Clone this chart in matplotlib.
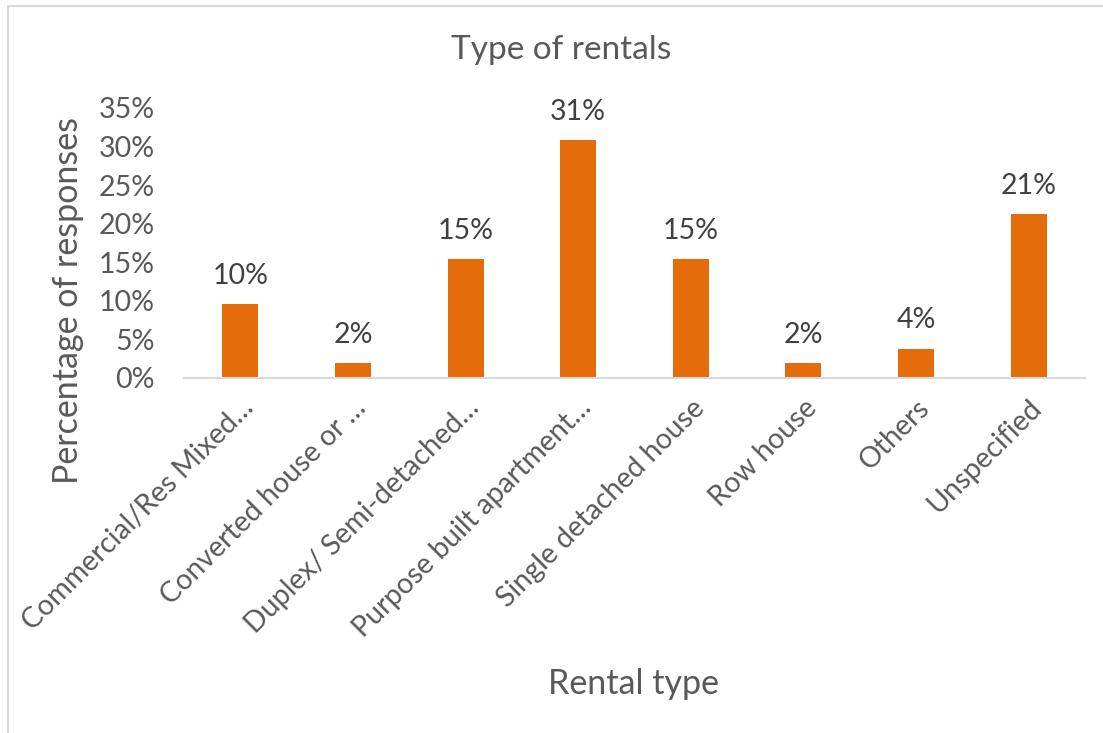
import matplotlib
matplotlib.use("Agg")
from matplotlib import pyplot as plt
from matplotlib.patches import Rectangle
from matplotlib.ticker import FuncFormatter

categories = ["Commercial/Res Mixed…", "Converted house or …", "Duplex/ Semi-detached…",
              "Purpose built apartment…", "Single detached house", "Row house", "Others", "Unspecified"]
values = [9.6, 1.9, 15.4, 30.8, 15.4, 1.9, 3.8, 21.2]
labels = ["10%", "2%", "15%", "31%", "15%", "2%", "4%", "21%"]
yticks = [0, 5, 10, 15, 20, 25, 30, 35]

plt.rcParams['font.family'] = ['Lato', 'DejaVu Sans']

W, H = 1103, 733
fig = plt.figure(figsize=(W / 100, H / 100), dpi=100)
ax = fig.add_axes([184 / W, 1 - 378 / H, (1085 - 184) / W, (378 - 108) / H])

x = range(len(categories))
ax.bar(x, values, width=0.32, color="#e46c0a")
for i, v in enumerate(values):
    ax.text(i, v + 2.0, labels[i], ha="center", va="bottom", fontsize=20.5, color="#404040")

ax.set_xlim(-0.5, len(categories) - 0.5)
ax.set_ylim(0, 35)
ax.set_yticks(yticks)
ax.yaxis.set_major_formatter(FuncFormatter(lambda v, p: f"{v:.0f}%"))
ax.set_xticks(list(x))
ax.set_xticklabels(categories, rotation=45, ha="right", rotation_mode="anchor")
ax.tick_params(axis="both", length=0, labelsize=20.5, labelcolor="#595959")
ax.tick_params(axis="x", pad=12)
ax.tick_params(axis="y", pad=21)

for s in ["top", "right", "left"]:
    ax.spines[s].set_visible(False)
ax.spines["bottom"].set_color("#d9d9d9")
ax.spines["bottom"].set_linewidth(1.5)

fig.text(561 / W, 1 - 50 / H, "Type of rentals", ha="center", va="center", fontsize=24, color="#595959")
fig.text(68 / W, 1 - 300 / H, "Percentage of responses", ha="center", va="center", rotation=90,
         fontsize=24.5, color="#595959")
fig.text(634 / W, 1 - 684 / H, "Rental type", ha="center", va="center", fontsize=24.5, color="#595959")

fig.patches.append(Rectangle((8 / W, -0.1), 1.2, 1.1 - 6 / H, transform=fig.transFigure,
                             fill=False, edgecolor="#d9d9d9", linewidth=1.5))

fig.savefig("out.png", dpi=100)
